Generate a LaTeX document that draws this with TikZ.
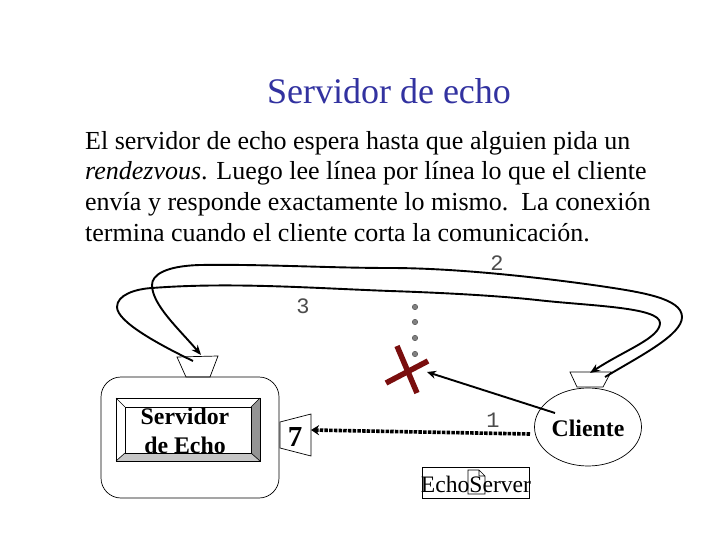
\documentclass[tikz,border=0pt]{standalone}
\usepackage{fontspec}
\setmainfont{Liberation Serif}
\newfontfamily\labelfont{Liberation Mono}
\usetikzlibrary{arrows.meta,shapes.geometric}
\definecolor{titleblue}{RGB}{50,50,160}
\definecolor{crossred}{RGB}{122,14,14}
\tikzset{
  x=1pt,y=-1pt,
  bodyline/.style={anchor=base west,inner sep=0pt,font=\fontsize{26}{28}\selectfont},
  outline/.style={draw=black,line width=0.7pt},
  curvearrow/.style={draw=black,line width=1.9pt,-{Stealth[length=10pt,width=8pt]}},
  dotbead/.style={circle,draw=black!70,fill=black!50,line width=0.4pt,minimum size=5.5pt,inner sep=0pt},
  crossbar/.style={draw=crossred,line width=5.5pt},
  boldlabel/.style={inner sep=0pt,font=\fontsize{23.8}{26}\selectfont\bfseries},
  numlabel/.style={inner sep=0pt,text=black!70,font=\fontsize{22}{24}\selectfont\labelfont},
}
\begin{document}
\begin{tikzpicture}
\useasboundingbox (0,0) rectangle (720,540);
\fill[white] (0,0) rectangle (720,540);
% title and text
\node[anchor=base,inner sep=0pt,text=titleblue,font=\fontsize{36}{38}\selectfont] (title) at (389,104) {Servidor de echo};
\node[bodyline] (l1) at (85,150) {El servidor de echo espera hasta que alguien pida un};
\node[bodyline] (l2) at (85,180) {\itshape rendezvous\upshape. Luego lee línea por línea lo que el cliente};
\node[bodyline] (l3) at (85,211) {envía y responde exactamente lo mismo.\ \ La conexión};
\node[bodyline] (l4) at (85,241) {termina cuando el cliente corta la comunicación.};
% server
\draw[outline,rounded corners=20pt] (101,377) rectangle (279,498);
\draw[outline] (177,357) -- (218,356) -- (210,377) -- (186,377) -- cycle;
\draw[outline] (280,422) -- (311,414) -- (311,456) -- (280,448) -- cycle;
\fill[black!42] (260,398) -- (251,407) -- (251,453) -- (260,461) -- cycle;
\fill[black!22] (116,461) -- (125,453) -- (251,453) -- (260,461) -- cycle;
\draw[line width=0.8pt] (116,398) rectangle (260,461);
\draw[line width=0.6pt] (125,407) rectangle (251,453);
\draw[line width=0.6pt] (116,398) -- (125,407) (260,398) -- (251,407) (116,461) -- (125,453) (260,461) -- (251,453);
\node[boldlabel] (srv1) at (185,416) {Servidor};
\node[boldlabel] (srv2) at (185,445) {de Echo};
\node[boldlabel,font=\fontsize{29}{30}\selectfont\bfseries] (seven) at (295,437) {7};
% client
\node[ellipse,draw=black,line width=0.7pt,minimum width=107pt,minimum height=78pt,inner sep=0pt] (client) at (588,427) {};
\draw[outline,fill=white] (570,372) -- (611,372) -- (603,387) -- (577,387) -- cycle;
\node[boldlabel] (clabel) at (588,428) {Cliente};
% labels
\node[numlabel] (n2) at (497,263) {2};
\node[numlabel] (n3) at (303,306) {3};
\node[numlabel] (n1) at (493,420) {1};
% connector end points
\coordinate (outerA) at (605,377);
\coordinate (outerB) at (201,355);
\coordinate (innerA) at (193,361);
\coordinate (innerB) at (590,373);
\coordinate (reqA) at (555,413);
\coordinate (reqB) at (427,372);
\coordinate (dotA) at (530,434);
\coordinate (dotB) at (311,430);
% loops
\draw[curvearrow] (outerA) .. controls (640,356) and (682,335) .. (682,317)
  .. controls (682,298) and (640,292) .. (600,286)
  .. controls (530,276) and (450,268) .. (390,268)
  .. controls (330,268) and (260,264) .. (200,265)
  .. controls (165,266) and (152,275) .. (152,285)
  .. controls (152,305) and (180,330) .. (outerB);
\draw[curvearrow] (innerA) .. controls (160,345) and (117,322) .. (117,307)
  .. controls (117,295) and (135,289) .. (152,288)
  .. controls (230,282) and (310,288) .. (390,291)
  .. controls (450,293) and (500,296) .. (537,300)
  .. controls (590,306) and (660,307) .. (660,323)
  .. controls (660,338) and (625,350) .. (innerB);
% request arrow
\draw[line width=1.9pt,-{Stealth[length=9pt,width=8pt]}] (reqA) -- (reqB);
% dotted arrow
\draw[line width=3.6pt,dash pattern=on 3.5pt off 1.2pt,-{Stealth[length=8pt,width=10pt]}] (dotA) -- (dotB);
% cross and dots
\draw[crossbar] (397,346) -- (417,393);
\draw[crossbar] (386,383) -- (428,361);
\node[dotbead] (d1) at (415,307) {};
\node[dotbead] (d2) at (415,322) {};
\node[dotbead] (d3) at (415,338) {};
\node[dotbead] (d4) at (415,354) {};
% EchoServer
\node[draw=black,line width=0.7pt,minimum width=107pt,minimum height=31pt,inner sep=0pt] (echobox) at (475.5,482.5) {};
\draw[line width=0.6pt] (468,470) -- (479,470) -- (485,476) -- (485,494) -- (468,494) -- cycle (479,470) -- (479,476) -- (485,476);
\node[inner sep=0pt,font=\fontsize{23.6}{25}\selectfont] (echotext) at (476,484) {EchoServer};
\end{tikzpicture}
\end{document}
